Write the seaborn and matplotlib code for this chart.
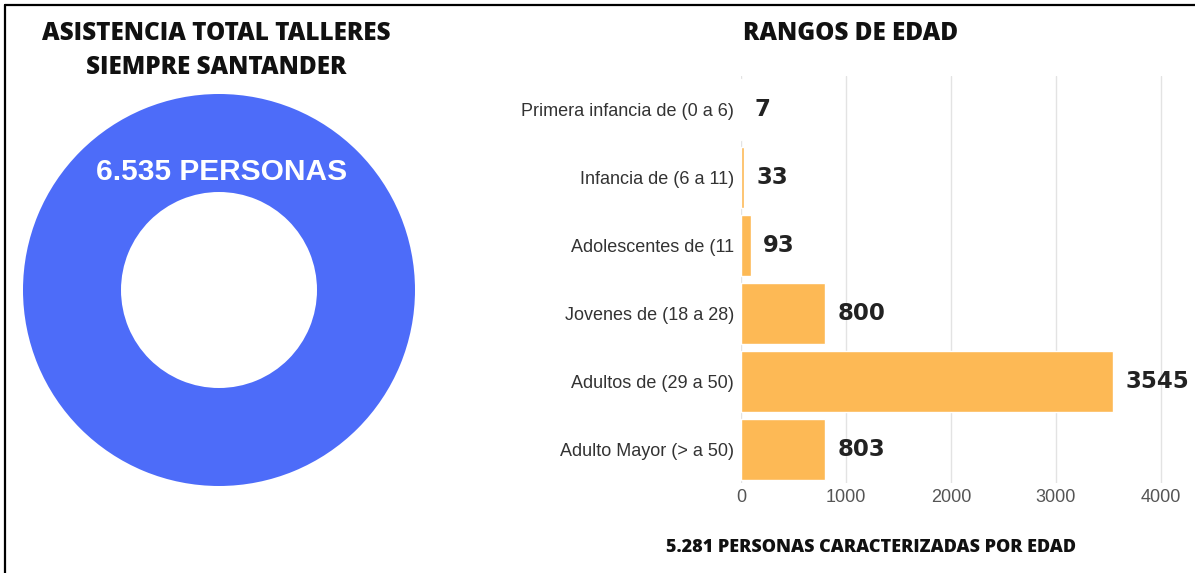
import matplotlib
matplotlib.use('Agg')
import matplotlib.pyplot as plt
import seaborn as sns
from matplotlib.lines import Line2D

# data
total_label = '6.535 PERSONAS'
donut_values = [6535]
age_groups = ['Primera infancia de (0 a 6)', 'Infancia de (6 a 11)', 'Adolescentes de (11',
              'Jovenes de (18 a 28)', 'Adultos de (29 a 50)', 'Adulto Mayor (> a 50)']
age_counts = [7, 33, 93, 800, 3545, 803]
x_ticks = [0, 1000, 2000, 3000, 4000]

BLUE = '#4d6cf9'
ORANGE = '#fdb955'

sns.set_style('white')
plt.rcParams['font.family'] = ['Liberation Sans', 'DejaVu Sans']
TITLE_FONT = ['Open Sans', 'DejaVu Sans']

W, H = 1195, 573
fig = plt.figure(figsize=(W / 100, H / 100), dpi=100)

def px_axes(left, top, right, bottom):
    return fig.add_axes([left / W, 1 - bottom / H, (right - left) / W, (bottom - top) / H])

# donut
ax1 = px_axes(22, 94, 416, 486)
ax1.pie(donut_values, colors=[BLUE], startangle=90, radius=1,
        wedgeprops=dict(width=0.5, edgecolor='none'))
ax1.set_xlim(-1, 1)
ax1.set_ylim(-1, 1)
ax1.set_aspect('equal')
ax1.axis('off')
fig.text(222 / W, 1 - 172 / H, total_label, color='white', fontsize=21.5, fontweight='bold',
         ha='center', va='center')

fig.text(216 / W, 1 - 33 / H, 'ASISTENCIA TOTAL TALLERES', ha='center', va='center',
         fontsize=17.5, fontweight='heavy', family=TITLE_FONT, color='#111111')
fig.text(216 / W, 1 - 67 / H, 'SIEMPRE SANTANDER', ha='center', va='center',
         fontsize=17.5, fontweight='heavy', family=TITLE_FONT, color='#111111')

# barras
ax2 = px_axes(741, 76, 1165, 483)
sns.barplot(x=age_counts, y=age_groups, color=ORANGE, orient='h', width=0.9, ax=ax2,
            saturation=1)
ax2.set_xlim(0, 4040)
ax2.set_xticks(x_ticks)
ax2.grid(axis='x', color='#e3e3e3', linewidth=1)
ax2.set_axisbelow(True)
for s in ax2.spines.values():
    s.set_visible(False)
ax2.tick_params(axis='y', length=0, pad=5, labelsize=13, labelcolor='#333333')
ax2.tick_params(axis='x', length=0, pad=4, labelsize=13, labelcolor='#555555')
ax2.set_xlabel('')
ax2.set_ylabel('')
for i, v in enumerate(age_counts):
    ax2.annotate(str(v), (v, i), xytext=(9, 0), textcoords='offset points',
                 ha='left', va='center', fontsize=16.5, fontweight='bold', color='#222222',
                 family=['DejaVu Sans'])

fig.text(851 / W, 1 - 34 / H, 'RANGOS DE EDAD', ha='center', va='center', fontsize=17.5,
         fontweight='heavy', family=TITLE_FONT, color='#111111')
fig.text(871 / W, 1 - 548 / H, '5.281 PERSONAS CARACTERIZADAS POR EDAD', ha='center', va='center',
         fontsize=13, fontweight='heavy', family=TITLE_FONT, color='#111111')

# marco
fig.add_artist(Line2D([5 / W, 5 / W], [0, 1 - 5 / H], color='black', linewidth=1.6))
fig.add_artist(Line2D([5 / W, 1], [1 - 5 / H, 1 - 5 / H], color='black', linewidth=1.6))

fig.savefig('out.png', dpi=100)
